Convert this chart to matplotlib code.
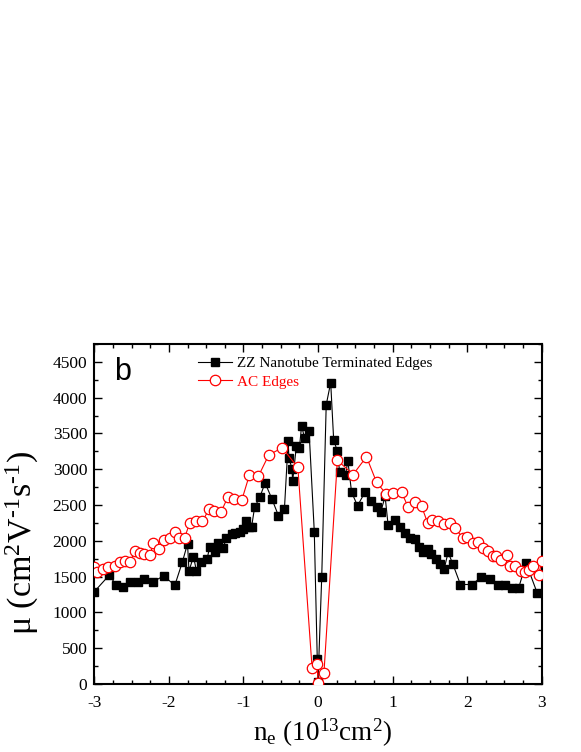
import matplotlib
matplotlib.use("Agg")
import matplotlib.pyplot as plt
from matplotlib.ticker import MultipleLocator

plt.rcParams['font.family'] = ['Liberation Serif', 'DejaVu Serif']
plt.rcParams['mathtext.fontset'] = 'custom'
plt.rcParams['mathtext.rm'] = 'Liberation Serif'
plt.rcParams['mathtext.it'] = 'Liberation Serif:italic'
plt.rcParams['mathtext.bf'] = 'Liberation Serif:bold'
plt.rcParams['axes.unicode_minus'] = False

# ZZ Nanotube Terminated Edges (black squares)
zz_x = [-3.0, -2.80, -2.71, -2.62, -2.52, -2.42, -2.33, -2.21, -2.07, -1.92,
        -1.82, -1.75, -1.73, -1.67, -1.63, -1.57, -1.49, -1.45, -1.38, -1.34,
        -1.27, -1.23, -1.16, -1.11, -1.05, -1.00, -0.96, -0.93, -0.89, -0.85,
        -0.78, -0.71, -0.62, -0.53, -0.45, -0.40, -0.39, -0.35, -0.34, -0.29,
        -0.25, -0.22, -0.18, -0.12, -0.05, -0.01, 0.0, 0.05, 0.11, 0.17,
        0.21, 0.26, 0.29, 0.37, 0.40, 0.45, 0.53, 0.63, 0.71, 0.79,
        0.84, 0.90, 0.94, 1.03, 1.10, 1.165, 1.23, 1.30, 1.35, 1.41,
        1.47, 1.52, 1.58, 1.63, 1.69, 1.745, 1.81, 1.91, 2.06, 2.19,
        2.31, 2.42, 2.51, 2.60, 2.69, 2.79, 2.94]
zz_mu = [1290, 1520, 1390, 1360, 1430, 1430, 1470, 1430, 1510, 1380,
         1700, 1960, 1580, 1780, 1580, 1710, 1740, 1920, 1850, 1970,
         1900, 2040, 2090, 2110, 2130, 2160, 2280, 2190, 2200, 2470,
         2610, 2810, 2590, 2350, 2450, 3390, 3160, 3010, 2830, 3330,
         3290, 3610, 3430, 3540, 2130, 350, 30, 1500, 3900, 4210,
         3410, 3250, 2960, 2920, 3120, 2680, 2490, 2680, 2550, 2470,
         2400, 2620, 2220, 2290, 2200, 2110, 2040, 2020, 1920, 1850,
         1880, 1810, 1740, 1670, 1600, 1840, 1670, 1390, 1390, 1490,
         1460, 1390, 1390, 1340, 1340, 1690, 1270]

# AC Edges (red open circles)
ac_x = [-3.0, -2.96, -2.88, -2.81, -2.72, -2.66, -2.59, -2.52, -2.45, -2.39,
        -2.33, -2.25, -2.21, -2.13, -2.07, -1.99, -1.92, -1.86, -1.79, -1.72,
        -1.64, -1.55, -1.46, -1.40, -1.30, -1.21, -1.12, -1.02, -0.92, -0.80,
        -0.66, -0.48, -0.27, -0.08, -0.01, 0.0, 0.08, 0.26, 0.47, 0.65,
        0.785, 0.91, 1.01, 1.12, 1.21, 1.30, 1.39, 1.47, 1.535, 1.61,
        1.69, 1.77, 1.84, 1.94, 2.0, 2.08, 2.14, 2.21, 2.28, 2.34,
        2.39, 2.45, 2.53, 2.57, 2.64, 2.72, 2.78, 2.83, 2.88, 2.96, 3.0]
ac_mu = [1634, 1570, 1600, 1630, 1650, 1710, 1720, 1710, 1860, 1830,
         1816, 1806, 1970, 1886, 2016, 2040, 2118, 2040, 2040, 2250,
         2272, 2272, 2446, 2422, 2404, 2610, 2590, 2576, 2920, 2902,
         3200, 3300, 3025, 230, 280, 20, 160, 3126, 2926, 3174,
         2818, 2660, 2670, 2678, 2470, 2544, 2480, 2250, 2286, 2272,
         2240, 2250, 2180, 2040, 2054, 1970, 1984, 1900, 1862, 1792,
         1782, 1736, 1796, 1642, 1642, 1572, 1560, 1596, 1642, 1526, 1712]

x_ticks = [-3, -2, -1, 0, 1, 2, 3]
y_ticks = [0, 500, 1000, 1500, 2000, 2500, 3000, 3500, 4000, 4500]

fig = plt.figure(figsize=(5.81, 7.52), dpi=100)
ax = fig.add_axes([0.1623, 0.0904, 0.7701, 0.4522])

ax.plot(zz_x, zz_mu, color='black', lw=0.8, marker='s', ms=6.3,
        mfc='black', mec='black', label='ZZ Nanotube Terminated Edges', zorder=2)
ax.plot(ac_x, ac_mu, color='red', lw=0.8, marker='o', ms=7.5,
        mfc='white', mec='red', mew=0.9, label='AC Edges', zorder=3)

ax.set_xlim(-3, 3)
ax.set_ylim(0, 4750)
ax.set_xticks(x_ticks)
ax.set_yticks(y_ticks)
ax.xaxis.set_minor_locator(MultipleLocator(0.25))
ax.yaxis.set_minor_locator(MultipleLocator(250))
ax.tick_params(which='both', direction='in', top=True, right=True,
               labelsize=12.5, width=1.0)
ax.tick_params(which='major', length=5.5)
ax.tick_params(which='minor', length=3)
ax.tick_params(axis='x', which='major', pad=8)
ax.tick_params(axis='y', which='major', pad=5)
for s in ax.spines.values():
    s.set_linewidth(1.5)

ax.set_xlabel(r'n$_\mathrm{e}$ (10$^{13}$cm$^2$)', fontsize=19.5, va='center')
ax.xaxis.set_label_coords(0.511, -0.143)
ax.set_ylabel(r'μ (cm$^2$V$^{\text{-}1}$s$^{\text{-}1}$)', fontsize=24.5, va='center')
ax.yaxis.set_label_coords(-0.160, 0.415)

ax.text(0.044, 0.918, 'b', transform=ax.transAxes, fontsize=22,
        family='Liberation Sans', va='center', ha='left')

leg = ax.legend(loc='upper left', bbox_to_anchor=(0.215, 0.985), frameon=False,
                fontsize=11, handlelength=2.2, handletextpad=0.35,
                borderpad=0, labelspacing=0.3, labelcolor=['black', 'red'])

fig.savefig('out.png', dpi=100)
